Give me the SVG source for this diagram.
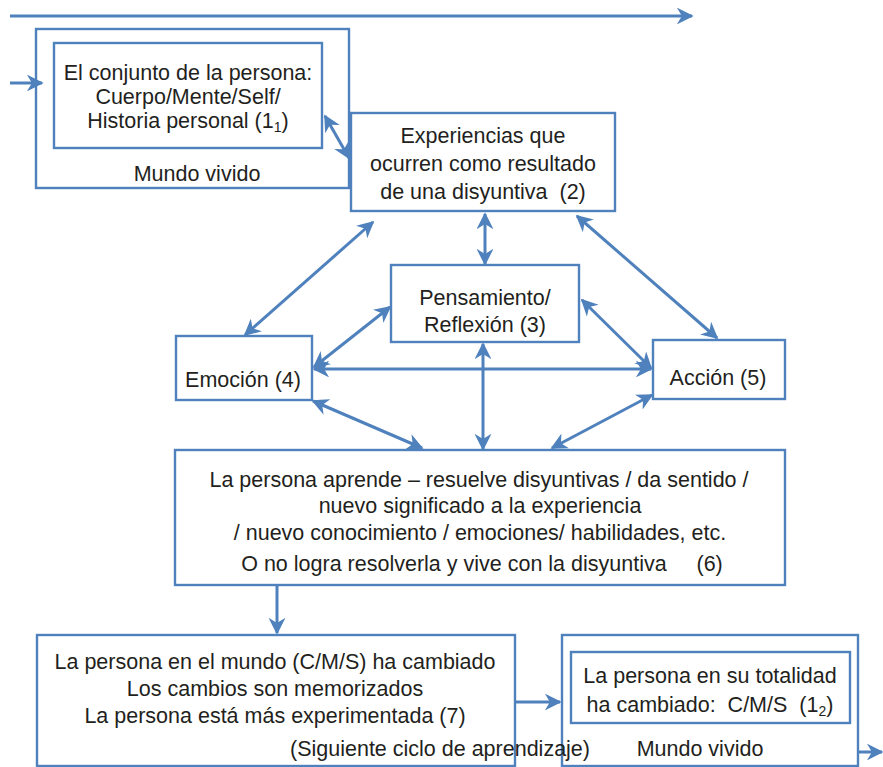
<svg xmlns="http://www.w3.org/2000/svg" width="883" height="767" viewBox="0 0 883 767">
<style>
.box{fill:#ffffff;stroke:#4f81bd;stroke-width:2.4}
.t{font-family:"Liberation Sans",Arial,sans-serif;font-size:21.5px;fill:#231f20;text-anchor:middle}
.c{stroke:#4f81bd;stroke-width:3;fill:none}
.one{marker-end:url(#ah)}
.two{marker-start:url(#ah);marker-end:url(#ah)}
</style>
<defs>
<marker id="ah" viewBox="0 0 10 10" refX="9" refY="5" markerWidth="5.6" markerHeight="5.6" orient="auto-start-reverse" markerUnits="strokeWidth">
<path d="M0,0 L10,5 L0,10 L3,5 z" fill="#4f81bd"/>
</marker>
</defs>
<rect width="883" height="767" fill="#ffffff"/>
<g id="node-mundo1">
<rect class="box" x="36" y="29" width="313" height="159"/>
<text class="t" x="197" y="181">Mundo vivido</text>
</g>
<g id="node-persona1">
<rect class="box" x="54" y="43" width="268" height="105"/>
<text class="t" x="188" y="80">El conjunto de la persona:</text>
<text class="t" x="188" y="104">Cuerpo/Mente/Self/</text>
<text class="t" x="188" y="128">Historia personal (1<tspan font-size="14" dy="4">1</tspan><tspan dy="-4">)</tspan></text>
</g>
<g id="node-experiencias">
<rect class="box" x="351" y="113" width="264" height="98"/>
<text class="t" x="483" y="143">Experiencias que</text>
<text class="t" x="483" y="171">ocurren como resultado</text>
<text class="t" x="483" y="199" xml:space="preserve">de una disyuntiva  (2)</text>
</g>
<g id="node-pensamiento">
<rect class="box" x="391" y="265" width="188" height="77"/>
<text class="t" x="485" y="305">Pensamiento/</text>
<text class="t" x="485" y="332">Reflexión (3)</text>
</g>
<g id="node-emocion">
<rect class="box" x="176" y="336" width="136" height="64"/>
<text class="t" x="243" y="387">Emoción (4)</text>
</g>
<g id="node-accion">
<rect class="box" x="653" y="340" width="132" height="59"/>
<text class="t" x="718" y="385">Acción (5)</text>
</g>
<g id="node-aprende">
<rect class="box" x="175" y="450" width="610" height="135"/>
<text class="t" x="479" y="487">La persona aprende – resuelve disyuntivas / da sentido /</text>
<text class="t" x="480" y="513">nuevo significado a la experiencia</text>
<text class="t" x="480" y="540">/ nuevo conocimiento / emociones/ habilidades, etc.</text>
<text class="t" x="482" y="571" xml:space="preserve">O no logra resolverla y vive con la disyuntiva     (6)</text>
</g>
<g id="node-cambiado">
<rect class="box" x="37" y="635" width="478" height="131"/>
<text class="t" x="275" y="669">La persona en el mundo (C/M/S) ha cambiado</text>
<text class="t" x="275" y="696">Los cambios son memorizados</text>
<text class="t" x="275" y="723">La persona está más experimentada (7)</text>
</g>
<g id="node-mundo2">
<rect class="box" x="562" y="635" width="296" height="131"/>
<text class="t" x="700" y="756">Mundo vivido</text>
</g>
<g id="node-persona2">
<rect class="box" x="571" y="652" width="279" height="71"/>
<text class="t" x="710" y="683">La persona en su totalidad</text>
<text class="t" x="710" y="712" xml:space="preserve">ha cambiado:  C/M/S  (1<tspan font-size="14" dy="4">2</tspan><tspan dy="-4">)</tspan></text>
</g>
<g id="label-siguiente">
<text class="t" x="440" y="756">(Siguiente ciclo de aprendizaje)</text>
</g>
<g id="connectors">
<line class="c one" x1="10" y1="16" x2="692" y2="16"/>
<line class="c one" x1="10" y1="83" x2="42" y2="83"/>
<line class="c two" x1="325" y1="116" x2="349" y2="158"/>
<line class="c two" x1="373" y1="222" x2="245" y2="335"/>
<line class="c two" x1="485" y1="214" x2="485" y2="264"/>
<line class="c two" x1="577" y1="216" x2="717" y2="338"/>
<line class="c two" x1="390" y1="307" x2="314" y2="367"/>
<line class="c two" x1="582" y1="300" x2="651" y2="368"/>
<line class="c two" x1="314" y1="369" x2="651" y2="369"/>
<line class="c two" x1="313" y1="401" x2="422" y2="448"/>
<line class="c two" x1="483" y1="344" x2="483" y2="449"/>
<line class="c two" x1="652" y1="395" x2="552" y2="448"/>
<line class="c one" x1="277" y1="586" x2="277" y2="633"/>
<line class="c one" x1="516" y1="702" x2="560" y2="702"/>
<line class="c one" x1="858" y1="752" x2="882" y2="752"/>
</g>
</svg>
